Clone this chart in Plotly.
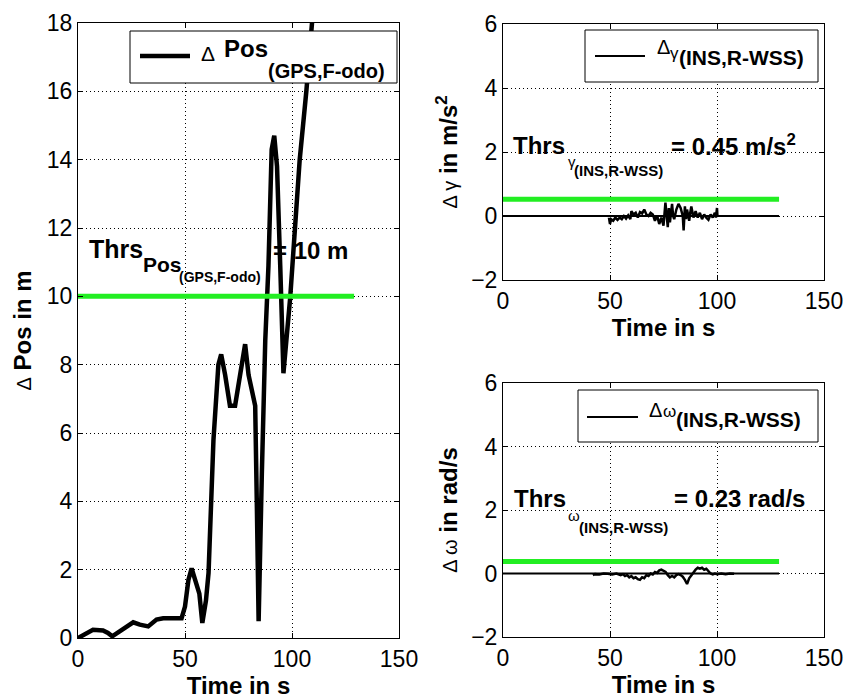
import plotly.graph_objects as go

# ---------------- data ----------------
time_pos = [0, 3.9, 7, 11.7, 14, 16, 19.5, 23.4, 25.8, 28.9, 32.8, 36.7, 39.8, 44, 48.4,
            50, 51.6, 53.1, 55.5, 56.7, 58.1, 59.8, 61, 63.3, 65.6, 66.9, 68.75, 71, 73.4,
            75.8, 78.1, 79.7, 82.8, 83.6, 84.4, 85.9, 87.5, 89, 90.5, 91.7, 93, 94.5, 96,
            99.2, 103.6, 106.7, 109.4, 112]
dpos = [0, 0.15, 0.24, 0.22, 0.15, 0.05, 0.2, 0.39, 0.46, 0.39, 0.34, 0.54, 0.58, 0.58, 0.58,
        0.92, 1.7, 2.04, 1.5, 1.3, 0.44, 1.1, 1.9, 5.8, 8.0, 8.3, 7.7, 6.8, 6.8,
        7.7, 8.6, 7.7, 6.8, 3.8, 0.49, 4.8, 8.7, 10.9, 14.3, 14.7, 13.8, 10.9, 7.75,
        10.0, 14.0, 16.0, 18.0, 20.0]

time_gamma = [49.5, 50, 50.5, 51.5, 52.5, 53.5, 54.5, 55.5, 56.5, 57.5, 58.5, 59.5, 60, 61, 62,
              63, 64, 65, 66, 67, 68, 69, 70, 71, 72, 73, 74, 75, 75.9, 77, 77.5, 78, 79,
              79.5, 80, 81, 82, 83, 84, 84.4, 85, 85.5, 86, 87, 87.5, 88, 89, 90, 91, 92,
              93, 94, 95, 96, 97, 98, 99, 99.5, 100, 100.2]
dgamma = [-0.05, -0.25, -0.1, -0.15, -0.05, -0.12, -0.05, -0.1, 0.0, -0.08, 0.02, -0.1, 0.15, 0.05, 0.1,
          -0.05, 0.12, 0.08, 0.2, 0.05, 0.0, 0.1, 0.05, -0.15, 0.02, -0.25, -0.05, -0.3, 0.42, -0.35, 0.25, -0.2, 0.38,
          0.0, -0.1, 0.2, 0.38, 0.25, 0.0, -0.45, 0.3, -0.1, 0.2, -0.15, 0.1, 0.3, -0.05, 0.15, -0.05, 0.1,
          -0.1, 0.05, -0.05, -0.12, 0.05, -0.05, 0.1, -0.05, 0.25, 0.0]

time_omega = [42, 43, 45, 47, 49, 51, 53, 55, 56, 57, 58, 59, 60, 61, 62, 63, 64, 65, 66, 67, 68,
              69, 70, 71, 72, 73, 74, 75, 76, 77, 78, 79, 80, 81, 82, 83, 84, 85, 86, 87, 88,
              89, 90, 91, 92, 93, 94, 95, 96, 97, 98, 99, 100, 102, 104, 106, 108]
domega = [-0.05, -0.02, -0.03, 0.0, -0.01, -0.03, 0.0, -0.05, -0.02, -0.08, -0.05, -0.12, -0.08, -0.15,
          -0.12, -0.18, -0.2, -0.12, -0.15, -0.05, -0.08, 0.0, -0.03, 0.05, 0.02, 0.1, 0.12, 0.08,
          0.05, -0.05, -0.12, -0.08, -0.12, -0.05, -0.02, -0.05, -0.1, -0.2, -0.33, -0.15, -0.05,
          0.05, 0.12, 0.18, 0.15, 0.18, 0.12, 0.15, 0.08, 0.0, -0.03, 0.0, -0.02, 0.0, -0.02, 0.0, -0.01]

thr_time = [0, 129]
thr_pos = [10, 10]
thr_gamma = [0.52, 0.52]
thr_omega = [0.38, 0.38]
zero_time = [0, 129]
zero_vals = [0, 0]

x_ticks = [0, 50, 100, 150]
pos_ticks = [0, 2, 4, 6, 8, 10, 12, 14, 16, 18]
rate_ticks = [-2, 0, 2, 4, 6]

# ---------------- layout geometry ----------------
W, H = 847, 700
ML, MR, MT, MB = 78, 23, 23, 62
PW, PH = W - ML - MR, H - MT - MB


def px(x):
    return (x - ML) / PW


def py(y):
    return (H - MB - y) / PH


GREEN = '#22ee22'
FONT = 'Liberation Sans, Arial, Helvetica, sans-serif'

fig = go.Figure()
fig.add_trace(go.Scatter(x=time_pos, y=dpos, mode='lines', name='Δ Pos (GPS,F-odo)',
                         line=dict(color='black', width=4.5), xaxis='x', yaxis='y', showlegend=False))
fig.add_trace(go.Scatter(x=thr_time, y=thr_pos, mode='lines', name='Thrs Pos',
                         line=dict(color=GREEN, width=5), xaxis='x', yaxis='y', showlegend=False))

fig.add_trace(go.Scatter(x=zero_time, y=zero_vals, mode='lines', name='zero γ',
                         line=dict(color='black', width=2), xaxis='x2', yaxis='y2', showlegend=False))
fig.add_trace(go.Scatter(x=time_gamma, y=dgamma, mode='lines', name='Δ γ (INS,R-WSS)',
                         line=dict(color='black', width=2.5), xaxis='x2', yaxis='y2', showlegend=False))
fig.add_trace(go.Scatter(x=thr_time, y=thr_gamma, mode='lines', name='Thrs γ',
                         line=dict(color=GREEN, width=5), xaxis='x2', yaxis='y2', showlegend=False))

fig.add_trace(go.Scatter(x=zero_time, y=zero_vals, mode='lines', name='zero ω',
                         line=dict(color='black', width=2), xaxis='x3', yaxis='y3', showlegend=False))
fig.add_trace(go.Scatter(x=time_omega, y=domega, mode='lines', name='Δ ω (INS,R-WSS)',
                         line=dict(color='black', width=2.5), xaxis='x3', yaxis='y3', showlegend=False))
fig.add_trace(go.Scatter(x=thr_time, y=thr_omega, mode='lines', name='Thrs ω',
                         line=dict(color=GREEN, width=5), xaxis='x3', yaxis='y3', showlegend=False))

common = dict(showline=True, linecolor='black', linewidth=1, mirror='ticks', ticks='inside',
              ticklen=5, tickcolor='black', showgrid=True, gridcolor='black', griddash='1px,3px',
              gridwidth=1, zeroline=False, tickfont=dict(size=23, family=FONT, color='black'),
              automargin=False)

xtitle = dict(text='<b>Time in s</b>', font=dict(size=24, family=FONT), standoff=4)
DS = "<span style='font-size:20px'>"

fig.update_layout(
    width=W, height=H,
    margin=dict(l=ML, r=MR, t=MT, b=MB, autoexpand=False),
    paper_bgcolor='white', plot_bgcolor='white',
    font=dict(family=FONT, size=22, color='black'),
    showlegend=False,
    xaxis=dict(domain=[0, px(399)], anchor='y', range=[0, 150], tickvals=x_ticks, title=xtitle, **common),
    yaxis=dict(domain=[0, 1], anchor='x', range=[0, 18], tickvals=pos_ticks,
               title=dict(text=DS + "Δ</span> <b>Pos in m</b>",
                          font=dict(size=24, family=FONT), standoff=8), **common),
    xaxis2=dict(domain=[px(503), 1], anchor='y2', range=[0, 150], tickvals=x_ticks, title=xtitle, **common),
    yaxis2=dict(domain=[py(280), py(24)], anchor='x2', range=[-2, 6], tickvals=rate_ticks,
                title=dict(text=DS + "Δ γ</span> <b>in m/s<sup>2</sup></b>",
                           font=dict(size=24, family=FONT), standoff=6), **common),
    xaxis3=dict(domain=[px(503), 1], anchor='y3', range=[0, 150], tickvals=x_ticks, title=xtitle, **common),
    yaxis3=dict(domain=[py(637), py(383)], anchor='x3', range=[-2, 6], tickvals=rate_ticks,
                title=dict(text=DS + "Δ ω</span> <b>in rad/s</b>",
                           font=dict(size=24, family=FONT), standoff=6), **common),
)

shapes = []
annotations = []


def legend_box(x0, y0, x1, y1, lx0, lx1, ly, lw):
    shapes.append(dict(type='rect', xref='paper', yref='paper', x0=px(x0), x1=px(x1), y0=py(y1), y1=py(y0),
                       line=dict(color='black', width=1), fillcolor='white', layer='above'))
    shapes.append(dict(type='line', xref='paper', yref='paper', x0=px(lx0), x1=px(lx1), y0=py(ly), y1=py(ly),
                       line=dict(color='black', width=lw), layer='above'))


def ann(x, y, text, size, bold=True):
    t = f'<b>{text}</b>' if bold else text
    annotations.append(dict(xref='paper', yref='paper', x=px(x), y=py(y), text=t, showarrow=False,
                            xanchor='left', yanchor='middle', font=dict(size=size, family=FONT, color='black')))


# legends
legend_box(130, 31, 397, 83, 140, 190, 56, 4.5)
ann(199, 53, 'Δ', 21, bold=False)
ann(222, 49, 'Pos', 24)
ann(266, 71, '(GPS,F-odo)', 20)

legend_box(585, 30, 818, 82, 595, 645, 56, 2)
ann(655, 47, 'Δ', 20, bold=False)
ann(668, 53, 'γ', 17, bold=False)
ann(677, 58, '(INS,R-WSS)', 21)

legend_box(578, 390, 818, 442, 587, 638, 417, 2)
ann(647, 410, 'Δ', 20, bold=False)
ann(661, 411, 'ω', 17, bold=False)
ann(674, 419, '(INS,R-WSS)', 21)

# threshold texts
ann(87, 249, 'Thrs', 25)
ann(141, 264, 'Pos', 21)
ann(177, 277, '(GPS,F-odo)', 14)
ann(271, 250, '= 10 m', 24)

ann(511, 145, 'Thrs', 24)
ann(566, 161, 'γ', 15, bold=False)
ann(572, 170, '(INS,R-WSS)', 15)
ann(669, 145, '= 0.45 m/s<sup>2</sup>', 24)

ann(512, 498, 'Thrs', 24)
ann(566, 515, 'ω', 15, bold=False)
ann(577, 527, '(INS,R-WSS)', 15)
ann(672, 498, '= 0.23 rad/s', 24)

fig.update_layout(shapes=shapes, annotations=annotations)
fig.write_html('out.html', config={'displayModeBar': False},
               post_script="document.body.style.margin='0';document.body.style.overflow='hidden';")
